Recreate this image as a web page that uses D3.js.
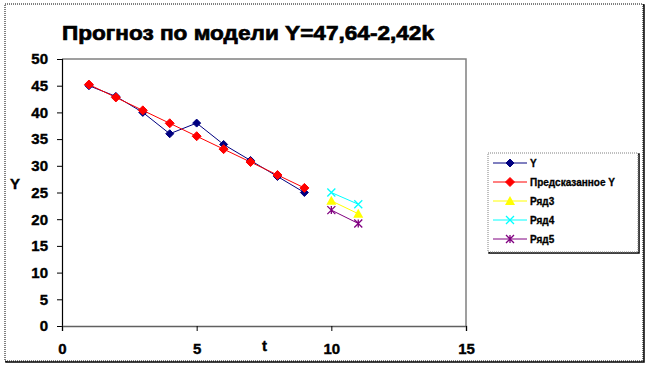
<!DOCTYPE html>
<html>
<head>
<meta charset="utf-8">
<script src="https://cdn.jsdelivr.net/npm/d3@7"></script>
<style>
  body { margin: 0; background: #fff; }
  svg { font-family: "Liberation Sans", Arial, sans-serif; }
</style>
</head>
<body>
<div id="chart"></div>
<script>
const width = 648;
const height = 377;

// data
const tY = [1, 2, 3, 4, 5, 6, 7, 8, 9];
const valuesY = [45, 43, 40, 36, 38, 34, 31, 28, 25];
const valuesPred = [45.22, 42.8, 40.38, 37.96, 35.54, 33.12, 30.7, 28.28, 25.86];
const tForecast = [10, 11];
const valuesRow3 = [23.44, 21.02];
const valuesRow4 = [25.0, 22.8];
const valuesRow5 = [21.7, 19.2];
const xTicks = [0, 5, 10, 15];
const yTicks = [0, 5, 10, 15, 20, 25, 30, 35, 40, 45, 50];
const seriesNames = ["Y", "Предсказанное Y", "Ряд3", "Ряд4", "Ряд5"];

const series = [
  { name: seriesNames[0], t: tY, v: valuesY, color: "#000080", marker: "diamond" },
  { name: seriesNames[1], t: tY, v: valuesPred, color: "#ff0000", marker: "diamondBig" },
  { name: seriesNames[2], t: tForecast, v: valuesRow3, color: "#ffff00", marker: "triangle" },
  { name: seriesNames[3], t: tForecast, v: valuesRow4, color: "#00ffff", marker: "x" },
  { name: seriesNames[4], t: tForecast, v: valuesRow5, color: "#800080", marker: "star" },
];

const plot = { left: 62, right: 466, top: 59, bottom: 326 };

const svg = d3.select("#chart").append("svg")
  .attr("width", width).attr("height", height);

// outer frame
svg.append("rect").attr("x", 6).attr("y", 5).attr("width", 638).attr("height", 357)
  .attr("fill", "none").attr("stroke", "#000").attr("stroke-width", 1.5);
svg.append("rect").attr("x", 5).attr("y", 4).attr("width", 638).attr("height", 357)
  .attr("fill", "#fff").attr("stroke", "#000").attr("stroke-dasharray", "1,1");

const x = d3.scaleLinear().domain([0, 15]).range([plot.left, plot.right]);
const y = d3.scaleLinear().domain([0, 50]).range([plot.bottom, plot.top]);

// plot area border (top and right)
svg.append("path")
  .attr("d", `M${plot.left},${plot.top}H${plot.right}V${plot.bottom}`)
  .attr("fill", "none").attr("stroke", "#808080").attr("stroke-width", 1.5);

// axes
const yAxis = svg.append("g").attr("transform", `translate(${plot.left},0)`)
  .call(d3.axisLeft(y).tickValues(yTicks).tickSize(5).tickPadding(9).tickFormat(d3.format("d")));
const xAxis = svg.append("g").attr("transform", `translate(0,${plot.bottom})`)
  .call(d3.axisBottom(x).tickValues(xTicks).tickSize(5).tickPadding(12).tickFormat(d3.format("d")));
[yAxis, xAxis].forEach(g => {
  g.select(".domain").attr("stroke", "#000").attr("stroke-width", 1.2);
  g.selectAll(".tick line").attr("stroke", "#000");
  g.selectAll("text").attr("font-size", 15).attr("font-weight", "bold")
    .attr("font-family", "'Liberation Sans', Arial, sans-serif").attr("fill", "#000")
    .attr("stroke", "#000").attr("stroke-width", 0.4);
});
xAxis.select(".domain").attr("stroke", "#606060").attr("stroke-width", 1.5);

// titles
svg.append("text").attr("x", 62).attr("y", 40).attr("font-size", 21).attr("font-weight", "bold")
  .attr("stroke", "#000").attr("stroke-width", 0.7)
  .attr("textLength", 372).attr("lengthAdjust", "spacingAndGlyphs")
  .text("Прогноз по модели Y=47,64-2,42k");
svg.append("text").attr("x", 10).attr("y", 189).attr("font-size", 15).attr("font-weight", "bold")
  .attr("stroke", "#000").attr("stroke-width", 0.4).text("Y");
svg.append("text").attr("x", 262).attr("y", 351).attr("font-size", 15).attr("font-weight", "bold")
  .attr("stroke", "#000").attr("stroke-width", 0.4).text("t");

function drawMarker(g, type, color, cx, cy) {
  if (type === "diamond" || type === "diamondBig") {
    const s = type === "diamond" ? 4 : 4.5;
    g.append("path").attr("d", `M${cx},${cy - s}L${cx + s},${cy}L${cx},${cy + s}L${cx - s},${cy}Z`)
      .attr("fill", color).attr("stroke", color);
  } else if (type === "triangle") {
    g.append("path").attr("d", `M${cx},${cy - 5}L${cx + 5},${cy + 4}L${cx - 5},${cy + 4}Z`)
      .attr("fill", color);
  } else if (type === "x") {
    g.append("path").attr("d", `M${cx - 4},${cy - 4}L${cx + 4},${cy + 4}M${cx - 4},${cy + 4}L${cx + 4},${cy - 4}`)
      .attr("stroke", color).attr("stroke-width", 1.3);
  } else if (type === "star") {
    g.append("path").attr("d", `M${cx - 4},${cy - 4}L${cx + 4},${cy + 4}M${cx - 4},${cy + 4}L${cx + 4},${cy - 4}M${cx},${cy - 4}V${cy + 4}`)
      .attr("stroke", color).attr("stroke-width", 1.3);
  }
}

const line = d3.line().x(d => x(d[0])).y(d => y(d[1]));
series.forEach(s => {
  const pts = s.t.map((t, i) => [t, s.v[i]]);
  const g = svg.append("g");
  g.append("path").attr("d", line(pts)).attr("fill", "none")
    .attr("stroke", s.color).attr("stroke-width", 1);
  pts.forEach(p => drawMarker(g, s.marker, s.color, x(p[0]), y(p[1])));
});

// legend
const lg = svg.append("g");
lg.append("rect").attr("x", 489).attr("y", 154).attr("width", 150).attr("height", 99)
  .attr("fill", "none").attr("stroke", "#000").attr("stroke-width", 1.5);
lg.append("rect").attr("x", 488).attr("y", 153).attr("width", 150).attr("height", 99)
  .attr("fill", "#fff").attr("stroke", "#808080").attr("stroke-dasharray", "1,1");
series.forEach((s, i) => {
  const ly = 163 + i * 19;
  lg.append("line").attr("x1", 493).attr("x2", 527).attr("y1", ly).attr("y2", ly)
    .attr("stroke", s.color).attr("stroke-width", 1);
  drawMarker(lg, s.marker, s.color, 510, ly);
  lg.append("text").attr("x", 530).attr("y", ly + 4).attr("font-size", 10)
    .attr("font-weight", "bold").attr("stroke", "#000").attr("stroke-width", 0.3).text(s.name);
});
</script>
</body>
</html>
